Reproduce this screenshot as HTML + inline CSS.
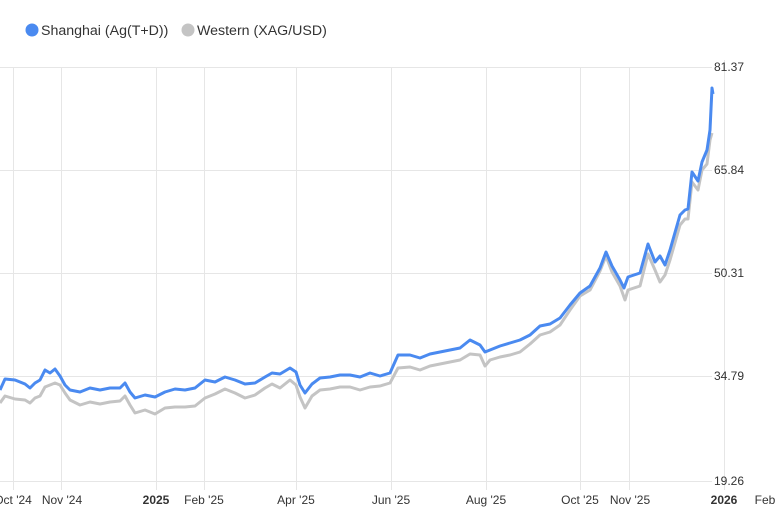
<!DOCTYPE html>
<html><head><meta charset="utf-8"><style>
body{margin:0;background:#fff;font-family:"Liberation Sans",Arial,sans-serif;}
svg{display:block}
</style></head><body>
<svg width="779" height="519" xmlns="http://www.w3.org/2000/svg" font-family="Liberation Sans, Arial, sans-serif">
<rect width="779" height="519" fill="#fff"/>
<circle cx="32" cy="30" r="6.5" fill="#4a8af0"/>
<text x="41" y="35" font-size="14.2" fill="#333">Shanghai (Ag(T+D))</text>
<circle cx="188" cy="30" r="6.5" fill="#c4c4c4"/>
<text x="197" y="35" font-size="14.2" fill="#333">Western (XAG/USD)</text>
<g stroke="#e6e6e6" stroke-width="1">
<line x1="0" y1="67.5" x2="712" y2="67.5"/>
<line x1="0" y1="170.5" x2="712" y2="170.5"/>
<line x1="0" y1="273.5" x2="712" y2="273.5"/>
<line x1="0" y1="376.5" x2="712" y2="376.5"/>
<line x1="0" y1="481.5" x2="712" y2="481.5"/>
<line x1="13.5" y1="67" x2="13.5" y2="490"/>
<line x1="61.5" y1="67" x2="61.5" y2="490"/>
<line x1="156.5" y1="67" x2="156.5" y2="490"/>
<line x1="204.5" y1="67" x2="204.5" y2="490"/>
<line x1="296.5" y1="67" x2="296.5" y2="490"/>
<line x1="391.5" y1="67" x2="391.5" y2="490"/>
<line x1="486.5" y1="67" x2="486.5" y2="490"/>
<line x1="580.5" y1="67" x2="580.5" y2="490"/>
<line x1="629.5" y1="67" x2="629.5" y2="490"/>
<line x1="724.5" y1="60" x2="724.5" y2="490"/>
</g>
<g font-size="12" fill="#333">
<text x="714" y="71">81.37</text>
<text x="714" y="174">65.84</text>
<text x="714" y="277">50.31</text>
<text x="714" y="380">34.79</text>
<text x="714" y="485">19.26</text>
</g>
<g font-size="12" fill="#333" text-anchor="middle">
<text x="13" y="504">Oct '24</text>
<text x="62" y="504">Nov '24</text>
<text x="156" y="504" font-weight="bold">2025</text>
<text x="204" y="504">Feb '25</text>
<text x="296" y="504">Apr '25</text>
<text x="391" y="504">Jun '25</text>
<text x="486" y="504">Aug '25</text>
<text x="580" y="504">Oct '25</text>
<text x="630" y="504">Nov '25</text>
<text x="724" y="504" font-weight="bold">2026</text>
<text x="765" y="504">Feb</text>
</g>
<polyline fill="none" stroke="#c4c4c4" stroke-width="3" stroke-linejoin="round" points="0,403 5,396 15,399 25,400 30,403 35,398 40,396 45,387 50,385 55,383 60,385 65,393 70,400 80,405 90,402 100,404 110,402 120,401 125,396 130,405 135,413 145,410 155,414 165,408 175,407 185,407 195,406 205,398 215,394 225,389 235,393 245,398 255,395 265,388 272,384 280,388 290,380 296,385 300,397 305,408 312,396 320,390 330,389 340,387 350,387 360,390 370,387 380,386 390,383 398,368 410,367 420,370 430,366 440,364 450,362 460,360 470,354 480,355 485,366 490,360 500,357 510,355 520,352 530,344 540,335 550,332 560,325 570,310 580,296 590,290 600,271 606,256 612,272 620,286 625,300 628,290 640,286 648,254 655,270 660,282 665,275 670,260 680,225 685,219 688,219 692,182 698,190 702,170 707,164 710,140 712,133"/>
<polyline fill="none" stroke="#4a8af0" stroke-width="3" stroke-linejoin="round" points="0,390 5,379 15,380 25,384 30,388 35,383 40,380 45,370 50,373 55,369 60,376 65,385 70,390 80,392 90,388 100,390 110,388 120,388 125,383 130,392 135,398 145,395 155,397 165,392 175,389 185,390 195,388 205,380 215,382 225,377 235,380 245,384 255,383 265,377 272,373 280,374 290,368 296,372 300,385 305,393 312,384 320,378 330,377 340,375 350,375 360,377 370,373 380,376 390,373 398,355 410,355 420,358 430,354 440,352 450,350 460,348 470,340 480,345 485,352 490,350 500,346 510,343 520,340 530,335 540,326 550,324 560,318 570,305 580,293 590,286 600,268 606,252 612,266 620,280 624,288 628,277 640,273 648,244 655,262 660,256 665,265 670,250 680,215 685,210 688,209 692,172 698,181 702,162 707,150 710,130 712,88 713,94"/>
</svg>
</body></html>
